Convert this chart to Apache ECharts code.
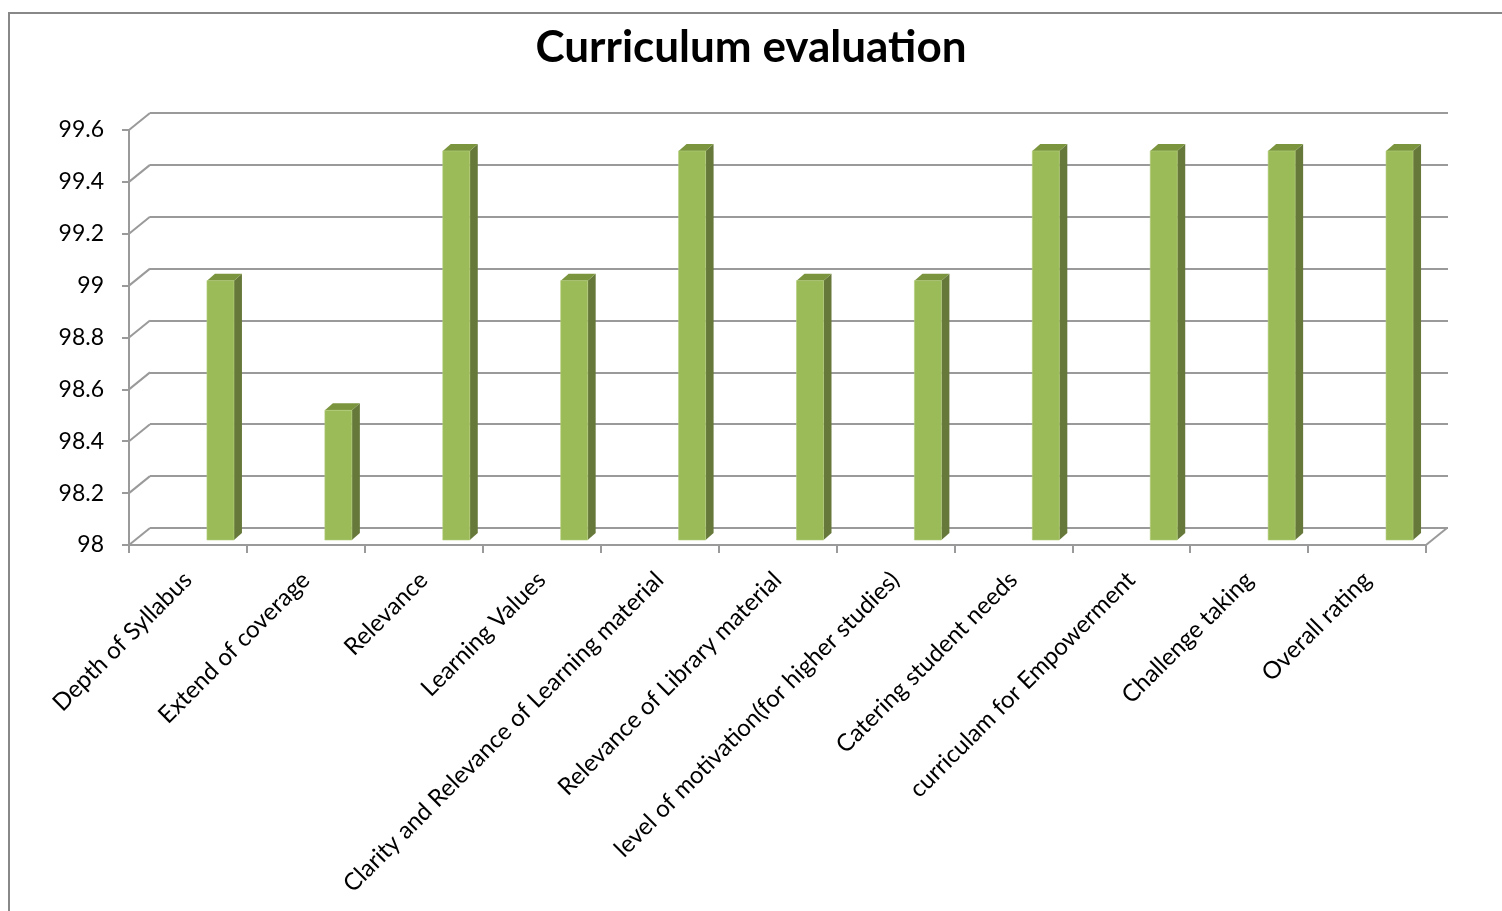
<!DOCTYPE html>
<html>
<head>
<meta charset="utf-8">
<script src="https://cdn.jsdelivr.net/npm/echarts@6/dist/echarts.min.js"></script>
<style>
html,body{margin:0;padding:0;background:#fff;}
#chart{width:1502px;height:911px;}
</style>
</head>
<body>
<div id="chart"></div>
<script>
const categories = [
  'Depth of Syllabus',
  'Extend of coverage',
  'Relevance',
  'Learning Values',
  'Clarity and Relevance of Learning material',
  'Relevance of Library material',
  'level of motivation(for higher studies)',
  'Catering student needs',
  'curriculam for Empowerment',
  'Challenge taking',
  'Overall rating'
];
const values = [99, 98.5, 99.5, 99, 99.5, 99, 99, 99.5, 99.5, 99.5, 99.5];
const tickValues = [98, 98.2, 98.4, 98.6, 98.8, 99, 99.2, 99.4, 99.6];
const yMin = 98, yMax = 99.6, yStep = 0.2;

const FONT = 'Lato, "Open Sans", sans-serif';
const LINE = '#9a9a9a';
const DEPTH_X = 21, DEPTH_Y = 17;

const chart = echarts.init(document.getElementById('chart'));

function renderBar(params, api) {
  const i = api.value(0);
  const v = api.value(1);
  const base = api.coord([i, yMin]);
  const top = api.coord([i, v]);
  const x1 = base[0] + 19, x2 = base[0] + 46;
  const yb = base[1] - 5, yt = top[1] - 5;
  const dx = 8, dy = 7;
  return {
    type: 'group',
    children: [
      { type: 'polygon', shape: { points: [[x2, yt], [x2 + dx, yt - dy], [x2 + dx, yb - dy], [x2, yb]] },
        style: { fill: '#67793a' } },
      { type: 'polygon', shape: { points: [[x1, yt], [x1 + dx, yt - dy], [x2 + dx, yt - dy], [x2, yt]] },
        style: { fill: '#7b953f' } },
      { type: 'rect', shape: { x: x1, y: yt, width: x2 - x1, height: yb - yt },
        style: { fill: '#9bbb59', stroke: '#b3cf7a', lineWidth: 0.6 } }
    ]
  };
}

function renderDiag(params, api) {
  const v = api.value(1);
  const p = api.coord([0, v]);
  const cs = params.coordSys;
  const children = [
    { type: 'line', shape: { x1: cs.x, y1: p[1], x2: cs.x + DEPTH_X, y2: p[1] - DEPTH_Y },
      style: { stroke: LINE, lineWidth: 2 } }
  ];
  if (v === yMin) {
    children.push({ type: 'line',
      shape: { x1: cs.x + cs.width, y1: p[1], x2: cs.x + cs.width + DEPTH_X, y2: p[1] - DEPTH_Y },
      style: { stroke: LINE, lineWidth: 2 } });
  }
  return { type: 'group', children };
}

const option = {
  backgroundColor: '#fff',
  animation: false,
  title: {
    text: 'Curriculum evaluation',
    left: 'center',
    top: 21,
    textStyle: { fontFamily: FONT, fontSize: 44, fontWeight: 'bold', color: '#000' }
  },
  graphic: [
    { type: 'rect', shape: { x: 9, y: 13, width: 1600, height: 1000 },
      style: { fill: 'none', stroke: '#888', lineWidth: 2 }, z: -10 }
  ],
  grid: [
    { left: 129, right: 76, top: 130, bottom: 366 },
    { left: 150, right: 54, top: 113, bottom: 383 }
  ],
  xAxis: [
    {
      type: 'category', gridIndex: 0, data: categories,
      axisLine: { show: true, lineStyle: { color: LINE, width: 2 } },
      axisTick: { show: true, length: 8, alignWithLabel: false, lineStyle: { color: LINE, width: 2 } },
      axisLabel: { rotate: 45, interval: 0, fontFamily: FONT, fontSize: 24, color: '#000', margin: 31 },
      splitLine: { show: false }
    },
    {
      type: 'category', gridIndex: 1, data: categories, show: false
    }
  ],
  yAxis: [
    {
      type: 'value', gridIndex: 0, min: yMin, max: yMax, interval: yStep,
      axisLine: { show: true, lineStyle: { color: LINE, width: 2 } },
      axisTick: { show: true, length: 7, lineStyle: { color: LINE, width: 2 } },
      axisLabel: { fontFamily: FONT, fontSize: 23, color: '#000', margin: 25,
        formatter: v => String(Math.round(v * 10) / 10) },
      splitLine: { show: false }
    },
    {
      type: 'value', gridIndex: 1, min: yMin, max: yMax, interval: yStep,
      axisLine: { show: false }, axisTick: { show: false }, axisLabel: { show: false },
      splitLine: { show: true, showMinLine: true, showMaxLine: true, lineStyle: { color: LINE, width: 2 } }
    }
  ],
  series: [
    {
      type: 'custom', name: 'walls', coordinateSystem: 'cartesian2d', xAxisIndex: 0, yAxisIndex: 0,
      clip: false, silent: true, z: 1,
      data: tickValues.map(v => [0, v]),
      renderItem: renderDiag
    },
    {
      type: 'custom', name: 'Curriculum evaluation', coordinateSystem: 'cartesian2d', xAxisIndex: 0, yAxisIndex: 0,
      clip: false, z: 5,
      data: values.map((v, i) => [i, v]),
      encode: { x: 0, y: 1 },
      renderItem: renderBar
    }
  ]
};
chart.setOption(option);
</script>
</body>
</html>
